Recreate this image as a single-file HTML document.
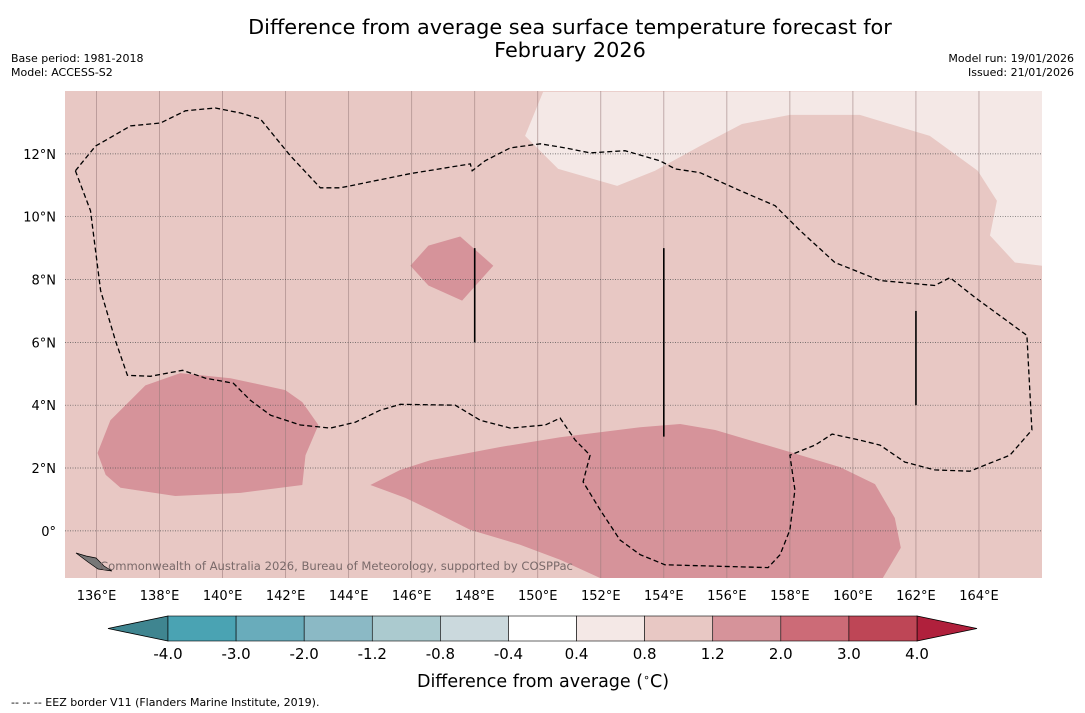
<!DOCTYPE html>
<html><head><meta charset="utf-8">
<style>
body{margin:0;background:#fff;width:1085px;height:713px;overflow:hidden;font-family:"DejaVu Sans","Liberation Sans",sans-serif;}
svg{position:absolute;left:0;top:0;}
</style></head>
<body>
<svg id="chart" width="1085" height="713" xmlns="http://www.w3.org/2000/svg">
<text x="570" y="34" font-size="20.8" text-anchor="middle" fill="#000">Difference from average sea surface temperature forecast for</text>
<text x="570" y="57" font-size="20.8" text-anchor="middle" fill="#000">February 2026</text>
<text x="11" y="62" font-size="11">Base period: 1981-2018</text>
<text x="11" y="76" font-size="11">Model: ACCESS-S2</text>
<text x="1074" y="62" font-size="11" text-anchor="end">Model run: 19/01/2026</text>
<text x="1074" y="76" font-size="11" text-anchor="end">Issued: 21/01/2026</text>
<g id="map"></g>
<g id="cbar"></g>
<text x="543" y="687" font-size="17.5" text-anchor="middle">Difference from average (<tspan baseline-shift="super" font-size="11">∘</tspan>C)</text>
<text x="11" y="706" font-size="11">--  --  -- EEZ border V11 (Flanders Marine Institute, 2019).</text>
</svg>
<script>
const lonMin=135, lonMax=166, latMin=-1.5, latMax=14;
const xTicks=[136,138,140,142,144,146,148,150,152,154,156,158,160,162,164];
const yTicks=[0,2,4,6,8,10,12];
const levelLabels=["-4.0","-3.0","-2.0","-1.2","-0.8","-0.4","0.4","0.8","1.2","2.0","3.0","4.0"];
const levelColors=["#3f8590","#4aa3b3","#69acbb","#8bb9c5","#abcacf","#cbd9dd","#ffffff","#f4e8e6","#e8c8c4","#d6939a","#cc6b77","#be4656","#b0203c"];
const lightLon=[150.17,149.6,150.65,152.52,153.72,155.15,156.48,158.0,160.22,162.44,163.96,164.57,164.35,165.14,166,166];
const lightLat=[13.97,12.57,11.52,10.98,11.46,12.25,12.95,13.24,13.24,12.57,11.46,10.51,9.4,8.54,8.44,14];
const blobALon=[136.03,136.44,137.55,138.66,140.25,141.99,142.53,143.04,142.63,142.53,140.57,138.5,136.76,136.29];
const blobALat=[2.48,3.52,4.63,5.02,4.86,4.48,4.1,3.37,2.41,1.46,1.21,1.11,1.37,1.78];
const blobBLon=[145.96,146.53,147.54,148.59,147.6,146.53];
const blobBLat=[8.44,9.08,9.37,8.44,7.33,7.81];
const blobCLon=[144.69,145.64,146.59,148.81,150.71,153.25,154.52,155.63,158.0,159.59,160.7,161.33,161.52,160.95,151.98,150.71,149.44,147.86,146.59,145.8];
const blobCLat=[1.46,1.94,2.25,2.67,2.98,3.3,3.4,3.21,2.51,2.03,1.49,0.41,-0.54,-1.5,-1.5,-0.92,-0.44,0.03,0.67,1.05];
const eezLon=[135.33,135.97,137.08,138.03,138.82,139.77,140.57,141.2,142.15,143.1,143.74,145.96,147.86,147.92,148.33,149.13,150.08,150.87,151.66,152.77,153.88,154.36,155.15,156.42,157.53,158.32,159.43,160.86,162.6,163.08,163.87,165.52,165.68,164.98,163.71,162.6,161.65,160.86,160.22,159.34,158.8,158.0,158.16,158.0,157.69,157.31,154.04,153.25,152.61,151.98,151.44,151.66,151.19,150.71,150.24,149.13,148.18,147.38,145.64,145.0,144.21,143.42,142.47,141.52,140.88,140.34,139.46,138.73,137.71,136.98,136.6,136.13,135.81,135.33];
const eezLat=[11.46,12.25,12.89,12.98,13.37,13.46,13.3,13.11,11.94,10.92,10.92,11.37,11.68,11.46,11.78,12.19,12.32,12.19,12.03,12.1,11.78,11.52,11.4,10.83,10.35,9.56,8.54,7.97,7.81,8.06,7.43,6.22,3.21,2.41,1.9,1.94,2.19,2.73,2.89,3.08,2.73,2.41,1.3,0.03,-0.76,-1.17,-1.08,-0.76,-0.29,0.67,1.56,2.41,2.89,3.59,3.37,3.27,3.52,4.0,4.03,3.84,3.46,3.27,3.37,3.68,4.16,4.7,4.86,5.11,4.92,4.95,6.06,7.65,10.19,11.46];
const segLon=[148,154,162];
const segLat0=[6,3,4];
const segLat1=[9,9,7];

const X0=65,X1=1042,Y0=91,Y1=578;
const xs=l=>X0+(l-lonMin)/(lonMax-lonMin)*(X1-X0);
const ys=l=>Y1-(l-latMin)/(latMax-latMin)*(Y1-Y0);
const NS="http://www.w3.org/2000/svg";
function mk(tag,attrs,parent){const e=document.createElementNS(NS,tag);for(const k in attrs)e.setAttribute(k,attrs[k]);parent.appendChild(e);return e;}
const map=document.getElementById('map');
let bg=mk('rect',{x:X0,y:Y0,width:X1-X0,height:Y1-Y0,fill:levelColors[8]},map);


const defs=mk('defs',{},map);
const cp=mk('clipPath',{id:'clip'},defs);mk('rect',{x:X0,y:Y0,width:X1-X0,height:Y1-Y0},cp);
const g=mk('g',{'clip-path':'url(#clip)'},map);
function poly(lons,lats,fill,name){const pts=lons.map((l,i)=>xs(l).toFixed(1)+','+ys(lats[i]).toFixed(1)).join(' ');
 const p=mk('polygon',{points:pts,fill:fill},g);
 
 }
poly(lightLon,lightLat,levelColors[7],'anomaly-region-light');
poly(blobALon,blobALat,levelColors[9],'anomaly-region-west');
poly(blobBLon,blobBLat,levelColors[9],'anomaly-region-small');
poly(blobCLon,blobCLat,levelColors[9],'anomaly-region-south');
xTicks.forEach(t=>{const l=mk('line',{x1:xs(t),x2:xs(t),y1:Y0,y2:Y1,stroke:'#9a7c7c','stroke-width':0.8,'stroke-opacity':0.7},g);
 
 
 const tx=mk('text',{x:xs(t),y:600,'font-size':13,'text-anchor':'middle'},map);tx.textContent=t+'°E';
 
 });
yTicks.forEach(t=>{const l=mk('line',{x1:X0,x2:X1,y1:ys(t),y2:ys(t),stroke:'#555','stroke-width':0.7,'stroke-dasharray':'1,1.5'},g);
 
 
 const tx=mk('text',{x:56,y:ys(t)+5,'font-size':13,'text-anchor':'end'},map);tx.textContent=t===0?'0°':t+'°N';
 
 });
const eez=mk('polyline',{points:eezLon.map((l,i)=>xs(l).toFixed(1)+','+ys(eezLat[i]).toFixed(1)).join(' '),fill:'none',stroke:'#000','stroke-width':1.3,'stroke-dasharray':'5,3'},g);


segLon.forEach((l,i)=>{const s=mk('line',{x1:xs(l),x2:xs(l),y1:ys(segLat0[i]),y2:ys(segLat1[i]),stroke:'#000','stroke-width':1.6},g);
 
 });
const isl=mk('path',{d:'M76,553 L86,556 L96,558 L104,566 L112,571 L98,569 L88,562 Z',fill:'#777',stroke:'#000','stroke-width':0.7},g);


const cr=mk('text',{x:100,y:570,'font-size':11.6,fill:'#7a6a6a'},g);cr.textContent='Commonwealth of Australia 2026, Bureau of Meteorology, supported by COSPPac';



const cb=document.getElementById('cbar');
const CX0=168,CX1=917,CY0=616,CY1=641,n=levelLabels.length-1,w=(CX1-CX0)/n;
let lt=mk('polygon',{points:`108,${(CY0+CY1)/2} ${CX0},${CY0} ${CX0},${CY1}`,fill:levelColors[0],stroke:'#000','stroke-width':0.8},cb);


let rt=mk('polygon',{points:`977,${(CY0+CY1)/2} ${CX1},${CY0} ${CX1},${CY1}`,fill:levelColors[12],stroke:'#000','stroke-width':0.8},cb);


for(let i=0;i<n;i++){const r=mk('rect',{x:CX0+i*w,y:CY0,width:w,height:CY1-CY0,fill:levelColors[i+1],stroke:'#000','stroke-width':0.6},cb);
 
 }
levelLabels.forEach((s,i)=>{const t=mk('text',{x:CX0+i*w,y:659,'font-size':15,'text-anchor':'middle'},cb);t.textContent=s;
 
 });
</script>
</body></html>
